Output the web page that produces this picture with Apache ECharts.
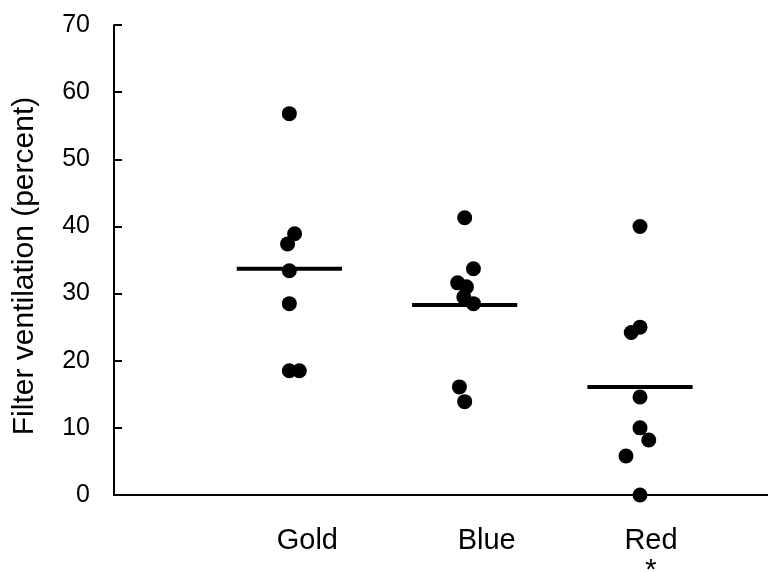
<!DOCTYPE html>
<html>
<head>
<meta charset="utf-8">
<script src="https://cdn.jsdelivr.net/npm/echarts@6/dist/echarts.min.js"></script>
<style>
  html, body { margin: 0; padding: 0; background: #fff; }
  #chart { width: 768px; height: 572px; }
</style>
</head>
<body>
<div id="chart"></div>
<script>
// groups along the x axis
var categories = ['Gold', 'Blue', 'Red'];

// filter ventilation (percent) per cigarette
var goldValues = [56.8, 38.9, 37.4, 33.4, 28.5, 18.5, 18.5];
var blueValues = [41.3, 33.7, 31.6, 31.0, 29.5, 28.5, 16.1, 13.9];
var redValues = [40.0, 25.0, 24.2, 14.6, 10.0, 8.2, 5.8, 0];

// horizontal jitter of the dots, in group units
var goldJitter = [0, 0.03, -0.01, 0, 0, 0, 0.057];
var blueJitter = [0, 0.05, -0.04, 0.01, -0.005, 0.05, -0.03, 0];
var redJitter = [0, 0, -0.05, 0, 0, 0.05, -0.08, 0];

// group means (horizontal bars)
var meanValues = [33.7, 28.3, 16.1];

// y ticks
var yTicks = [0, 10, 20, 30, 40, 50, 60, 70];

var groups = [goldValues, blueValues, redValues];
var jitters = [goldJitter, blueJitter, redJitter];

var dots = [];
groups.forEach(function (vals, g) {
  vals.forEach(function (v, i) {
    dots.push([g + 1 + jitters[g][i], v]);
  });
});

var meanSeries = meanValues.map(function (m, g) {
  return {
    type: 'line',
    data: [[g + 1 - 0.3, m], [g + 1 + 0.3, m]],
    symbol: 'none',
    lineStyle: { color: '#000', width: 4 },
    silent: true,
    z: 3
  };
});

var labelFont = { fontSize: 29, fontFamily: 'Liberation Sans', color: '#000', lineHeight: 30 };

var chart = echarts.init(document.getElementById('chart'));
chart.setOption({
  animation: false,
  grid: { left: 114, right: 0, top: 25, bottom: 77, outerBoundsMode: 'none', containLabel: false },
  xAxis: {
    type: 'value',
    min: 0,
    max: 3.73,
    interval: 1,
    splitLine: { show: false },
    axisTick: { show: false },
    axisLine: { lineStyle: { color: '#000', width: 2 } },
    axisLabel: {
      margin: 31,
      showMinLabel: false,
      showMaxLabel: false,
      formatter: function (v) {
        var i = Math.round(v) - 1;
        var name = categories[i];
        if (!name) return '';
        var key = ['a', 'b', 'c'][i];
        var txt = '{' + key + '|' + name + '}';
        return name === 'Red' ? txt + '\n{' + key + '|*}' : txt;
      },
      rich: {
        a: Object.assign({ padding: [0, 0, 0, 36] }, labelFont),
        b: Object.assign({ padding: [0, 0, 0, 44] }, labelFont),
        c: Object.assign({ padding: [0, 0, 0, 22] }, labelFont)
      }
    }
  },
  yAxis: {
    type: 'value',
    min: yTicks[0],
    max: yTicks[yTicks.length - 1],
    interval: 10,
    name: 'Filter ventilation (percent)',
    nameLocation: 'middle',
    nameGap: 74,
    nameTextStyle: {
      fontSize: 30,
      fontFamily: 'Liberation Sans',
      color: '#000',
      padding: [0, 12, 0, 0]
    },
    splitLine: { show: false },
    axisLine: { show: true, lineStyle: { color: '#000', width: 2 } },
    axisTick: { show: true, inside: true, length: 8, lineStyle: { color: '#000', width: 2 } },
    axisLabel: {
      margin: 24,
      fontSize: 25,
      fontFamily: 'Liberation Sans',
      color: '#000'
    }
  },
  series: [{
    type: 'scatter',
    data: dots,
    symbol: 'circle',
    symbolSize: 15,
    clip: false,
    itemStyle: { color: '#000', opacity: 1 },
    z: 4
  }].concat(meanSeries)
});
</script>
</body>
</html>
